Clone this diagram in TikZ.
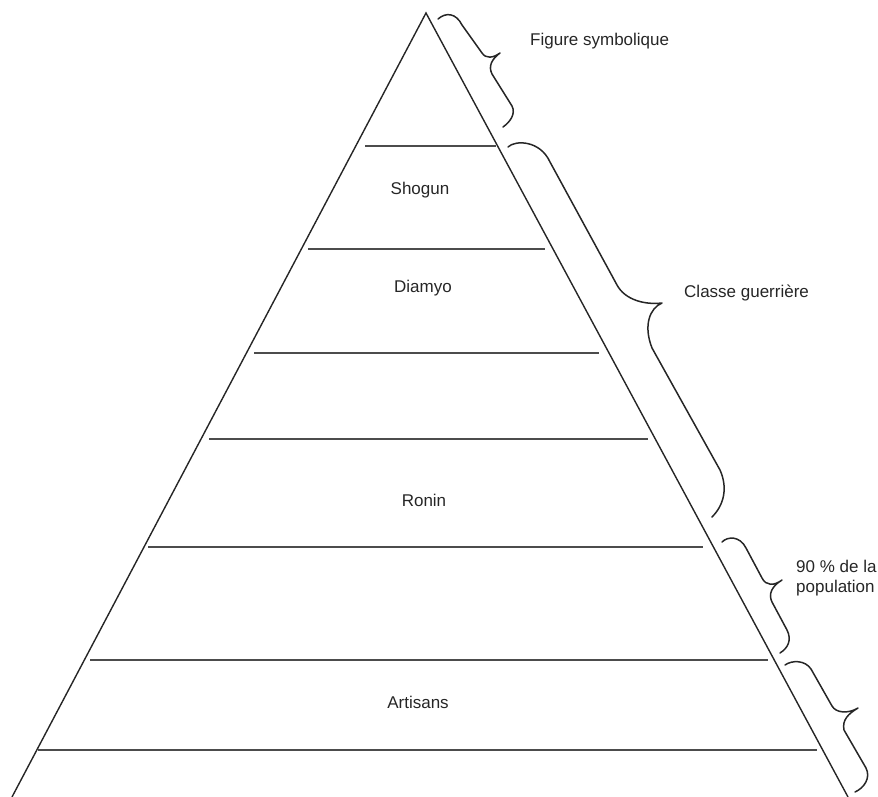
\documentclass[tikz,border=0pt]{standalone}
\usepackage{fontspec}
\setmainfont{Liberation Sans}
\begin{document}
\begin{tikzpicture}[x=1pt,y=-1pt,
  edge/.style={line width=1.4pt,black!85},
  tier/.style={line width=1.7pt,black!70},
  brc/.style={line width=1.5pt,black!85,line join=round,line cap=round},
  lbl/.style={font=\fontsize{17}{20}\selectfont,inner sep=0pt,text=black!85}]
\useasboundingbox (0,0) rectangle (878,797);
% pyramid
\coordinate (apex) at (426,13);
\coordinate (bl) at (12,797);
\coordinate (br) at (848,797);
\draw[edge] (bl) -- (apex) -- (br);
% tiers
\coordinate (l1a) at (365,146); \coordinate (l1b) at (496,146);
\coordinate (l2a) at (308,249); \coordinate (l2b) at (545,249);
\coordinate (l3a) at (254,353); \coordinate (l3b) at (599,353);
\coordinate (l4a) at (209,439); \coordinate (l4b) at (648,439);
\coordinate (l5a) at (148,547); \coordinate (l5b) at (703,547);
\coordinate (l6a) at (90,660);  \coordinate (l6b) at (768,660);
\coordinate (l7a) at (38,750);  \coordinate (l7b) at (817,750);
\foreach \i in {1,...,7} \draw[tier] (l\i a) -- (l\i b);
% labels inside
\node[lbl] (shogun) at (420,190) {Shogun};
\node[lbl] (diamyo) at (423,288) {Diamyo};
\node[lbl] (ronin) at (424,500) {Ronin};
\node[lbl] (artisans) at (418,702) {Artisans};
% braces
\draw[brc] (438,19) .. controls (446,12) and (456,13) .. (462,25) -- (482,53)
  .. controls (486,59) and (493,58) .. (500,53)
  .. controls (492,59) and (488,66) .. (492,74) -- (512,106)
  .. controls (516,114) and (510,122) .. (503,127);
\draw[brc] (508,147) .. controls (515,140) and (540,140) .. (550,162) -- (617,285)
  .. controls (625,300) and (645,305) .. (662,303)
  .. controls (650,308) and (643,325) .. (652,348) -- (720,470)
  .. controls (728,488) and (724,505) .. (712,517);
\draw[brc] (722,542) .. controls (728,536) and (740,536) .. (746,548) -- (762,578)
  .. controls (766,586) and (774,586) .. (782,580)
  .. controls (772,586) and (768,594) .. (772,602) -- (787,630)
  .. controls (792,640) and (788,648) .. (780,653);
\draw[brc] (785,665) .. controls (792,660) and (805,660) .. (811,669) -- (832,706)
  .. controls (836,713) and (848,714) .. (858,708)
  .. controls (848,714) and (842,720) .. (844,730) -- (866,768)
  .. controls (871,778) and (864,788) .. (855,792);
% outside labels
\node[lbl,anchor=west] (fig) at (530,41) {Figure symbolique};
\node[lbl,anchor=west] (classe) at (684,293) {Classe guerrière};
\node[lbl,anchor=west,align=left] (pop) at (796,578) {90 \% de la\\population};
\end{tikzpicture}
\end{document}
